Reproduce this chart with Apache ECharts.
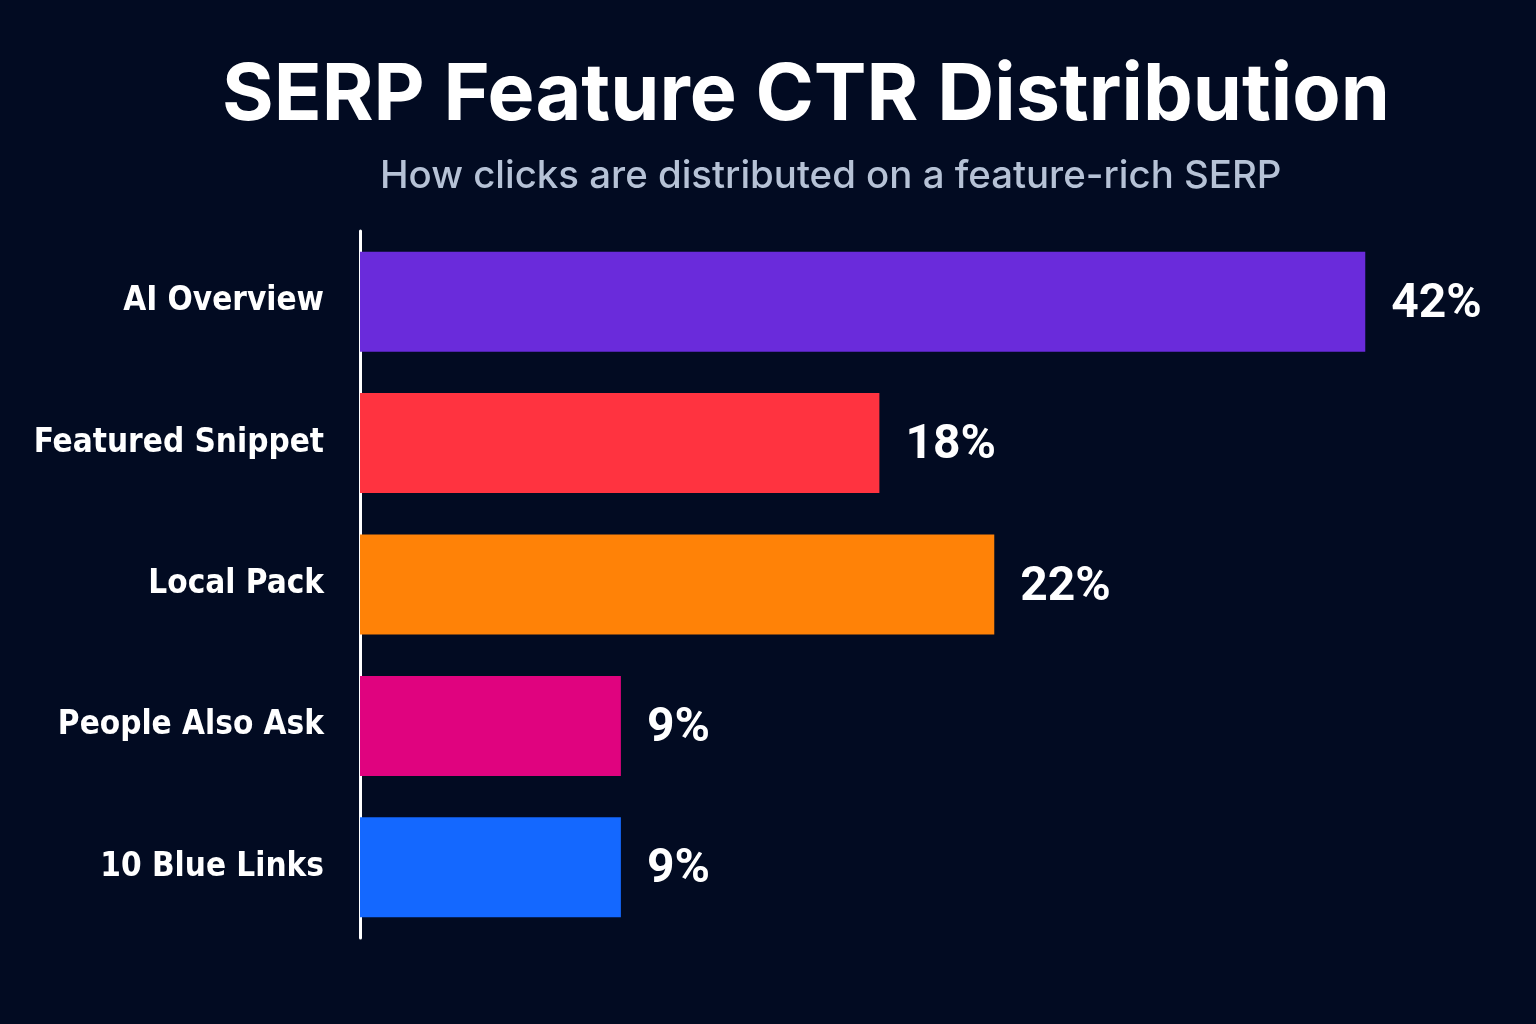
<!DOCTYPE html>
<html>
<head>
<meta charset="utf-8">
<title>SERP Feature CTR Distribution</title>
<script src="https://cdn.jsdelivr.net/npm/echarts@6/dist/echarts.min.js"></script>
<style>
  html, body { margin: 0; padding: 0; background: #020b22; }
  #chart { width: 1536px; height: 1024px; }
</style>
</head>
<body>
<div id="chart"></div>
<script>
// categories, top to bottom
var categories = ['AI Overview', 'Featured Snippet', 'Local Pack', 'People Also Ask', '10 Blue Links'];
// CTR share printed next to each bar (%)
var shares = [42, 18, 22, 9, 9];
// bar lengths as drawn in the picture (same % units, not strictly proportional to the labels)
var barLengths = [42, 21.7, 26.5, 10.9, 10.9];
var barColors = ['#6a2bdb', '#ff3340', '#ff8207', '#e0037f', '#1468ff'];

var chart = echarts.init(document.getElementById('chart'));

var option = {
    backgroundColor: '#020b22',
    title: [{
        text: 'SERP Feature CTR Distribution',
        left: 222,
        top: 57,
        padding: 0,
        textStyle: {
            color: '#ffffff',
            fontFamily: 'Inter',
            fontWeight: 700,
            fontSize: 79
        }
    }, {
        text: 'How clicks are distributed on a feature-rich SERP',
        left: 380,
        top: 157,
        padding: 0,
        textStyle: {
            color: '#b6c2d6',
            fontFamily: 'Inter',
            fontWeight: 500,
            fontSize: 38.4
        }
    }],
    grid: {
        left: 360,
        right: 75,
        top: 231,
        bottom: 86,
        outerBoundsMode: 'none'
    },
    xAxis: {
        type: 'value',
        min: 0,
        max: 46,
        show: false
    },
    yAxis: {
        type: 'category',
        inverse: true,
        data: categories,
        axisLine: { show: true, lineStyle: { color: '#ffffff', width: 3 } },
        axisTick: { show: false },
        splitLine: { show: false },
        axisLabel: {
            margin: 36,
            color: '#ffffff',
            fontFamily: "'DejaVu Sans Condensed', 'Liberation Sans Narrow', Roboto, sans-serif",
            fontWeight: 'bold',
            fontSize: 33
        }
    },
    series: [{
        type: 'bar',
        barWidth: 100,
        data: barLengths.map(function(v, i) {
            return { value: v, itemStyle: { color: barColors[i] } };
        }),
        label: {
            show: true,
            position: 'right',
            distance: 26,
            offset: [0, 3],
            color: '#ffffff',
            fontFamily: 'Roboto',
            fontWeight: 700,
            fontSize: 48,
            formatter: function(p) {
                return shares[p.dataIndex] + '%';
            }
        }
    }]
};

chart.setOption(option);
</script>
</body>
</html>
